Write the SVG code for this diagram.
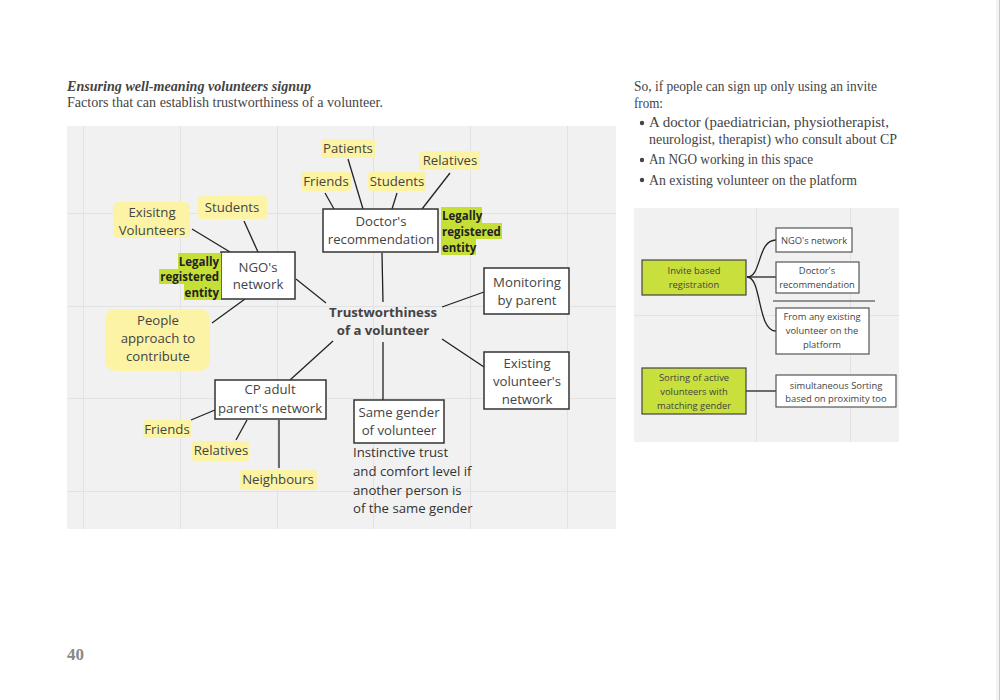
<svg xmlns="http://www.w3.org/2000/svg" width="1000" height="700" viewBox="0 0 1000 700">
<style>
.ser{font-family:"Liberation Serif","DejaVu Serif",serif;font-size:14.5px;fill:#444}
.mm{font-family:"Open Sans","Noto Sans",sans-serif;font-size:13.2px;fill:#444;text-anchor:middle;dominant-baseline:central}
.hl{fill:#fcf3a5}
.gr{fill:#c6df36}
.lg{font-family:"Open Sans","Noto Sans",sans-serif;font-size:11.5px;font-weight:bold;fill:#222;dominant-baseline:central}
.box{fill:#fff;stroke:#333;stroke-width:1.5}
.ln{stroke:#222;stroke-width:1.3;fill:none}
.grid{stroke:#e2e2e2;stroke-width:1}
.sm{font-family:"Open Sans","Noto Sans",sans-serif;font-size:9.4px;fill:#444;text-anchor:middle;dominant-baseline:central}
.sbox{fill:#fff;stroke:#555;stroke-width:1.2}
.gbox{fill:#c8df3c;stroke:#444;stroke-width:1.2}
</style>
<rect width="1000" height="700" fill="#fff"/>
<rect x="996" y="0" width="4" height="700" fill="#f3f3f3"/>
<line x1="999.5" y1="0" x2="999.5" y2="700" stroke="#c8c8c8"/>

<!-- Header texts -->
<text class="ser" x="67" y="91" font-weight="bold" font-style="italic" fill="#333" textLength="244" lengthAdjust="spacingAndGlyphs">Ensuring well-meaning volunteers signup</text>
<text class="ser" x="67" y="107" textLength="316" lengthAdjust="spacingAndGlyphs">Factors that can establish trustworthiness of a volunteer.</text>

<text class="ser" x="634" y="91" textLength="243" lengthAdjust="spacingAndGlyphs">So, if people can sign up only using an invite</text>
<text class="ser" x="634" y="108" textLength="29" lengthAdjust="spacingAndGlyphs">from:</text>
<circle cx="642" cy="123" r="2.2" fill="#444"/>
<text class="ser" x="649" y="127" textLength="240" lengthAdjust="spacingAndGlyphs">A doctor (paediatrician, physiotherapist,</text>
<text class="ser" x="649" y="144" textLength="248" lengthAdjust="spacingAndGlyphs">neurologist, therapist) who consult about CP</text>
<circle cx="642" cy="160" r="2.2" fill="#444"/>
<text class="ser" x="649" y="164" textLength="164" lengthAdjust="spacingAndGlyphs">An NGO working in this space</text>
<circle cx="642" cy="180" r="2.2" fill="#444"/>
<text class="ser" x="649" y="185" textLength="208" lengthAdjust="spacingAndGlyphs">An existing volunteer on the platform</text>

<text x="67" y="660" font-family="Liberation Serif, serif" font-weight="bold" font-size="17" fill="#888">40</text>

<!-- Mind map panel -->
<rect x="67" y="126" width="549" height="403" fill="#f1f1f1"/>
<g class="grid">
<line x1="83.5" y1="126" x2="83.5" y2="529"/>
<line x1="180.5" y1="126" x2="180.5" y2="529"/>
<line x1="277.5" y1="126" x2="277.5" y2="529"/>
<line x1="373.5" y1="126" x2="373.5" y2="529"/>
<line x1="470.5" y1="126" x2="470.5" y2="529"/>
<line x1="567.5" y1="126" x2="567.5" y2="529"/>
<line x1="67" y1="213.5" x2="616" y2="213.5"/>
<line x1="67" y1="306.5" x2="616" y2="306.5"/>
<line x1="67" y1="398.5" x2="616" y2="398.5"/>
<line x1="67" y1="491.5" x2="616" y2="491.5"/>
</g>

<g id="connectors">
<line class="ln" x1="325" y1="193" x2="334" y2="209"/>
<line class="ln" x1="348" y1="159" x2="363" y2="209"/>
<line class="ln" x1="397" y1="193" x2="392" y2="209"/>
<line class="ln" x1="450" y1="173" x2="422" y2="209"/>
<line class="ln" x1="382" y1="253" x2="383" y2="302"/>
<line class="ln" x1="192" y1="229" x2="230" y2="252"/>
<line class="ln" x1="244" y1="221" x2="258" y2="252"/>
<line class="ln" x1="296" y1="279" x2="326" y2="303"/>
<line class="ln" x1="245" y1="299" x2="212" y2="323"/>
<line class="ln" x1="442" y1="307" x2="484" y2="292"/>
<line class="ln" x1="442" y1="339" x2="484" y2="367"/>
<line class="ln" x1="383" y1="342" x2="383" y2="400"/>
<line class="ln" x1="333" y1="341" x2="290" y2="380"/>
<line class="ln" x1="191" y1="420" x2="215" y2="410"/>
<line class="ln" x1="236" y1="440" x2="247" y2="420"/>
<line class="ln" x1="279" y1="420" x2="279" y2="468"/>
</g>

<g id="center">
<text class="mm" x="383" y="312" font-weight="bold" fill="#111" font-size="13">Trustworthiness</text>
<text class="mm" x="383" y="330" font-weight="bold" fill="#111" font-size="13">of a volunteer</text>
</g>

<g id="doctor">
<rect class="box" x="323" y="209" width="115" height="43"/>
<text class="mm" x="381" y="221">Doctor's</text>
<text class="mm" x="381" y="239">recommendation</text>
</g>
<g id="doctor-legal">
<rect class="gr" x="441" y="207" width="41" height="16"/>
<rect class="gr" x="441" y="223" width="61" height="16"/>
<rect class="gr" x="441" y="239" width="35" height="16"/>
<text class="lg" x="442" y="215">Legally</text>
<text class="lg" x="442" y="231">registered</text>
<text class="lg" x="442" y="247">entity</text>
</g>
<g id="patients"><rect class="hl" x="321" y="139" width="54" height="19" rx="3"/><text class="mm" x="348" y="148">Patients</text></g>
<g id="friends-doc"><rect class="hl" x="301" y="172" width="50" height="19" rx="3"/><text class="mm" x="326" y="181">Friends</text></g>
<g id="students-doc"><rect class="hl" x="368" y="172" width="58" height="19" rx="3"/><text class="mm" x="397" y="181">Students</text></g>
<g id="relatives-doc"><rect class="hl" x="419" y="151" width="61" height="19" rx="3"/><text class="mm" x="450" y="160">Relatives</text></g>

<g id="ngo">
<rect class="box" x="221" y="252" width="74" height="47"/>
<text class="mm" x="258" y="267">NGO's</text>
<text class="mm" x="258" y="284">network</text>
</g>
<g id="ngo-legal">
<rect class="gr" x="178" y="253" width="43" height="16"/>
<rect class="gr" x="159" y="269" width="62" height="15"/>
<rect class="gr" x="184" y="284" width="37" height="16"/>
<text class="lg" x="219" y="261" text-anchor="end">Legally</text>
<text class="lg" x="219" y="276" text-anchor="end">registered</text>
<text class="lg" x="219" y="292" text-anchor="end">entity</text>
</g>
<g id="students-ngo"><rect class="hl" x="198" y="196" width="69" height="23" rx="4"/><text class="mm" x="232" y="207">Students</text></g>
<g id="existing-vol"><rect class="hl" x="113" y="202" width="77" height="36" rx="6"/><text class="mm" x="152" y="212">Exisitng</text><text class="mm" x="152" y="230">Volunteers</text></g>
<g id="people"><rect class="hl" x="105" y="309" width="105" height="62" rx="10"/><text class="mm" x="158" y="320">People</text><text class="mm" x="158" y="338">approach to</text><text class="mm" x="158" y="356">contribute</text></g>

<g id="monitoring">
<rect class="box" x="484" y="268" width="85" height="46"/>
<text class="mm" x="527" y="282">Monitoring</text>
<text class="mm" x="527" y="300">by parent</text>
</g>
<g id="existing-network">
<rect class="box" x="484" y="352" width="85" height="57"/>
<text class="mm" x="527" y="363">Existing</text>
<text class="mm" x="527" y="381">volunteer's</text>
<text class="mm" x="527" y="399">network</text>
</g>

<g id="gender">
<rect class="box" x="354" y="400" width="90" height="43"/>
<text class="mm" x="399" y="412">Same gender</text>
<text class="mm" x="399" y="430">of volunteer</text>
</g>
<g id="instinctive" font-family="Open Sans, sans-serif" font-size="13.2" fill="#333">
<text x="353" y="457">Instinctive trust</text>
<text x="353" y="476">and comfort level if</text>
<text x="353" y="495">another person is</text>
<text x="353" y="513">of the same gender</text>
</g>

<g id="cp">
<rect class="box" x="215" y="380" width="111" height="39"/>
<text class="mm" x="270" y="389">CP adult</text>
<text class="mm" x="270" y="408">parent's network</text>
</g>
<g id="friends-cp"><rect class="hl" x="143" y="420" width="48" height="18" rx="3"/><text class="mm" x="167" y="429">Friends</text></g>
<g id="relatives-cp"><rect class="hl" x="192" y="441" width="57" height="20" rx="3"/><text class="mm" x="221" y="450">Relatives</text></g>
<g id="neighbours"><rect class="hl" x="240" y="470" width="77" height="20" rx="3"/><text class="mm" x="278" y="479">Neighbours</text></g>

<!-- Right panel -->
<rect x="634" y="208" width="265" height="234" fill="#f1f1f1"/>
<g class="grid" stroke="#e6e6e6">
<line x1="756.5" y1="208" x2="756.5" y2="442"/>
<line x1="850.5" y1="208" x2="850.5" y2="442"/>
<line x1="634" y1="315.5" x2="899" y2="315.5"/>
</g>
<g id="connectors-right">
<path class="ln" stroke-width="1.1" d="M747,277 C762,277 757,240 776,240"/>
<path class="ln" stroke-width="1.1" d="M747,277 L776,277"/>
<path class="ln" stroke-width="1.1" d="M747,277 C762,277 757,331 776,331"/>
<line class="ln" stroke-width="1.1" x1="746" y1="391" x2="776" y2="391"/>
<line x1="773" y1="301" x2="875" y2="301" stroke="#333" stroke-width="1.1"/>
</g>
<g id="invite"><rect class="gbox" x="642" y="260" width="104" height="35"/><text class="sm" x="694" y="270">Invite based</text><text class="sm" x="694" y="284">registration</text></g>
<g id="ngo-r"><rect class="sbox" x="776" y="228" width="76" height="24"/><text class="sm" x="814" y="240">NGO's network</text></g>
<g id="doctor-r"><rect class="sbox" x="776" y="262" width="83" height="31"/><text class="sm" x="817" y="270">Doctor's</text><text class="sm" x="817" y="284">recommendation</text></g>
<g id="existing-r"><rect class="sbox" x="776" y="308" width="93" height="46"/><text class="sm" x="822" y="316">From any existing</text><text class="sm" x="822" y="330">volunteer on the</text><text class="sm" x="822" y="344">platform</text></g>
<g id="sorting"><rect class="gbox" x="642" y="368" width="104" height="46"/><text class="sm" x="694" y="377">Sorting of active</text><text class="sm" x="694" y="391">volunteers with</text><text class="sm" x="694" y="405">matching gender</text></g>
<g id="proximity"><rect class="sbox" x="776" y="375" width="120" height="32"/><text class="sm" x="836" y="385">simultaneous Sorting</text><text class="sm" x="836" y="398">based on proximity too</text></g>
</svg>
